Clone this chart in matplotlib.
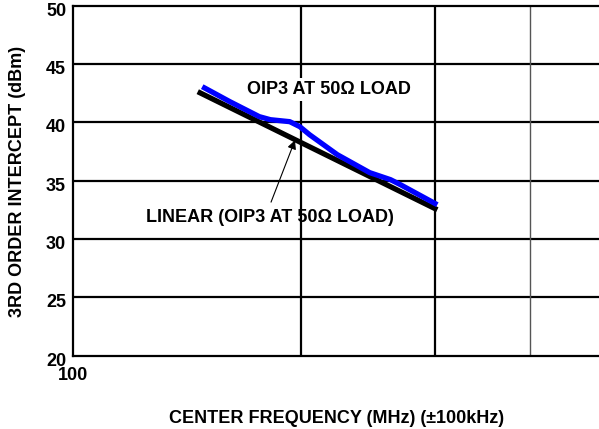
import numpy as np
import matplotlib.pyplot as plt
import matplotlib.transforms as mtransforms

plt.rcParams['font.family'] = ['Liberation Sans', 'DejaVu Sans']
plt.rcParams['font.weight'] = 'bold'

# ---------------- data ----------------
freq_oip3 = [148, 161, 176, 182, 193, 199, 205, 223, 246, 262, 270, 302]
oip3_50 = [43.06, 41.77, 40.49, 40.23, 40.06, 39.63, 38.94, 37.23, 35.69, 35.09, 34.66, 32.94]

freq_lin = [146, 302]
oip3_lin = [42.63, 32.51]

y_ticks = [20, 25, 30, 35, 40, 45, 50]
x_grid_dark = [200, 300]
x_grid_light = [400]

fs = 13

# ---------------- plotting ----------------
fig = plt.figure(figsize=(5.99, 4.29), dpi=100)
ax = fig.add_axes([0.1219, 0.1709, 0.8856, 0.8158])

ax.set_xscale('log')
ax.set_xlim(100, 500)
ax.set_ylim(20, 50)

for yv in y_ticks[1:-1]:
    ax.axhline(yv, color='k', lw=1.6, zorder=1)
for xv in x_grid_dark:
    ax.axvline(xv, color='k', lw=1.6, zorder=1)
for xv in x_grid_light:
    ax.axvline(xv, color='#555555', lw=1.0, zorder=1)

ax.plot(freq_lin, oip3_lin, color='k', lw=3.8, solid_capstyle='butt', zorder=3)
ax.plot(freq_oip3, oip3_50, color='#0000ff', lw=3.8, solid_capstyle='butt', zorder=4)

ax.set_yticks(y_ticks)
ax.set_yticklabels([str(v) for v in y_ticks], fontsize=fs, fontweight='bold',
                   va='center_baseline')
ax.set_xticks([100])
ax.set_xticklabels(['100'], fontsize=fs, fontweight='bold')
ax.minorticks_off()
ax.tick_params(axis='both', length=0)
ax.tick_params(axis='y', pad=5)
ax.tick_params(axis='x', pad=8)

# nudge y tick labels a little downward, as in the reference
shift = mtransforms.ScaledTranslation(0, -2.5 / 72, fig.dpi_scale_trans)
for lab in ax.get_yticklabels():
    lab.set_transform(lab.get_transform() + shift)

for s in ['left', 'top', 'bottom']:
    ax.spines[s].set_linewidth(1.6)
ax.spines['right'].set_visible(False)

ax.text(217.5, 42.8, 'OIP3 AT 50Ω LOAD', ha='center', va='center', fontsize=fs,
        fontweight='bold', zorder=5,
        bbox=dict(facecolor='white', edgecolor='none', pad=2))
ax.text(181.8, 31.83, 'LINEAR (OIP3 AT 50Ω LOAD)', ha='center', va='center',
        fontsize=fs, fontweight='bold', zorder=0)
ax.annotate('', xy=(196.7, 38.69), xytext=(181.8, 32.94),
            arrowprops=dict(arrowstyle='-|>', color='k', lw=0.8, mutation_scale=13),
            zorder=6)

fig.text(0.5626, 0.024, 'CENTER FREQUENCY (MHz) (±100kHz)', ha='center', va='center',
         fontsize=fs, fontweight='bold')
fig.text(0.03, 0.578, '3RD ORDER INTERCEPT (dBm)', ha='center', va='center',
         rotation=90, fontsize=fs, fontweight='bold')

fig.savefig('out.png', dpi=100)
